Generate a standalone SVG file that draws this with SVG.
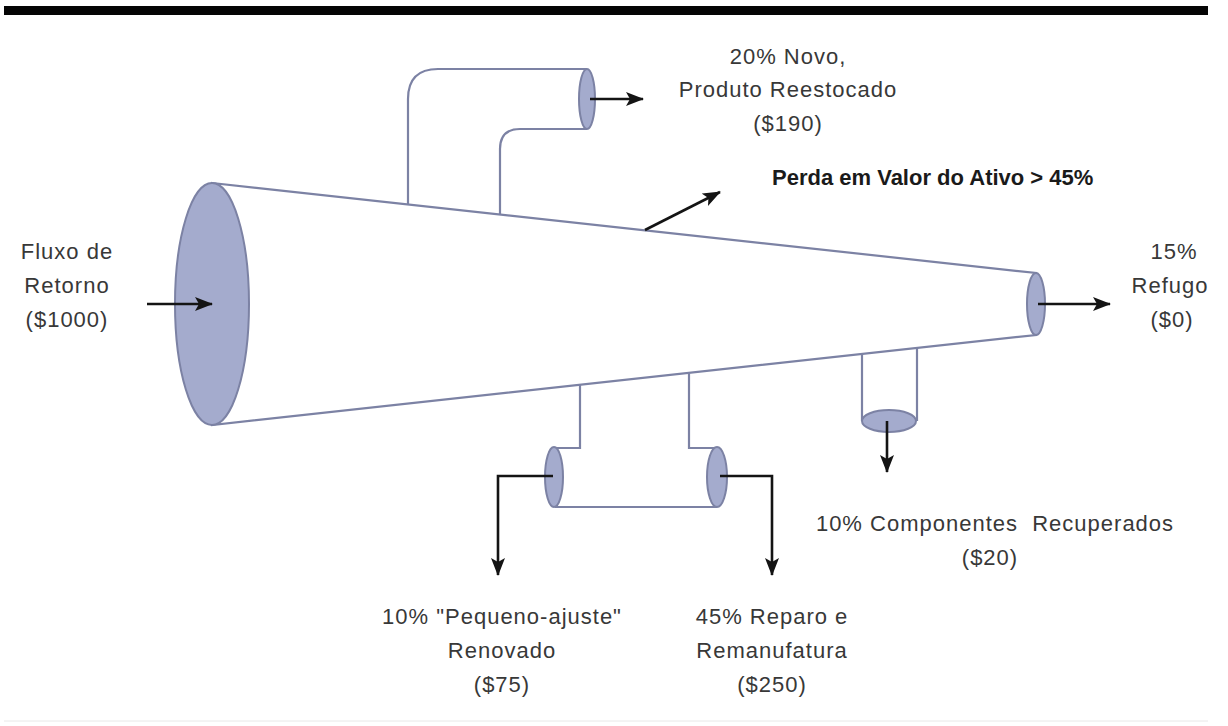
<svg xmlns="http://www.w3.org/2000/svg" width="1228" height="726" viewBox="0 0 1228 726">
<style>
.pipe{fill:none;stroke:#7c82a4;stroke-width:2.2}
.body{fill:#ffffff;stroke:#7c82a4;stroke-width:2.2}
.cap{fill:#a4abcd;stroke:#7c82a4;stroke-width:2}
.arr{fill:none;stroke:#141414;stroke-width:2.6;marker-end:url(#ah)}
.t{font-family:"Liberation Sans",Arial,sans-serif;font-size:22px;fill:#383838;text-anchor:middle;letter-spacing:1px}
.b{font-family:"Liberation Sans",Arial,sans-serif;font-size:22px;font-weight:bold;fill:#1a1a1a}
</style>
<defs>
<marker id="ah" markerUnits="userSpaceOnUse" markerWidth="20" markerHeight="16" refX="17" refY="7" orient="auto">
<path d="M0,0 L18,7 L0,14 L4,7 Z" fill="#141414"/>
</marker>
</defs>
<rect x="4" y="6" width="1204" height="9" fill="#050505"/>
<line x1="4" y1="721" x2="1208" y2="721" stroke="#e8e8e8" stroke-width="1"/>

<g id="cone">
<path class="body" d="M212,183 L1036,273 L1036,335 L212,425 Z"/>
<ellipse class="cap" cx="212" cy="304" rx="37" ry="121"/>
<ellipse class="cap" cx="1036" cy="304" rx="9" ry="31"/>
</g>

<g id="top-pipe">
<path class="pipe" d="M408,204 V99 Q408,69 438,69 H587"/>
<path class="pipe" d="M500,214 V149 Q500,129 520,129 H587"/>
<ellipse class="cap" cx="587" cy="99" rx="8" ry="30"/>
</g>

<g id="bottom-pipes">
<path class="pipe" d="M580,385 V448 H555"/>
<path class="pipe" d="M689,373 V448 H717"/>
<path class="pipe" d="M555,507 H717"/>
<ellipse class="cap" cx="554" cy="477" rx="9" ry="30"/>
<ellipse class="cap" cx="717" cy="477" rx="10" ry="30"/>
</g>

<g id="component-pipe">
<path class="pipe" d="M862,354 V421"/>
<path class="pipe" d="M917,348 V421"/>
<ellipse class="cap" cx="889" cy="421" rx="27" ry="11"/>
</g>

<g id="connectors">
<path class="arr" d="M147,304 H212"/>
<path class="arr" d="M590,99 H643"/>
<path class="arr" d="M645,230 L720,192"/>
<path class="arr" d="M1038,304 H1110"/>
<path class="arr" d="M887,421 V472"/>
<path class="arr" d="M553,476 H498 V575"/>
<path class="arr" d="M720,476 H772 V575"/>
</g>

<g id="label-restock">
<text class="t" x="788" y="64">20% Novo,</text>
<text class="t" x="788" y="97">Produto Reestocado</text>
<text class="t" x="788" y="131">($190)</text>
</g>
<g id="label-loss">
<text class="b" x="772" y="185">Perda em Valor do Ativo &gt; 45%</text>
</g>
<g id="label-input">
<text class="t" x="67" y="259">Fluxo de</text>
<text class="t" x="67" y="293">Retorno</text>
<text class="t" x="67" y="327">($1000)</text>
</g>
<g id="label-scrap">
<text class="t" x="1174" y="259">15%</text>
<text class="t" x="1170" y="293">Refugo</text>
<text class="t" x="1172" y="327">($0)</text>
</g>
<g id="label-components">
<text class="t" x="995" y="531">10% Componentes&#160; Recuperados</text>
<text class="t" x="990" y="565">($20)</text>
</g>
<g id="label-renewed">
<text class="t" x="502" y="624">10% "Pequeno-ajuste"</text>
<text class="t" x="502" y="658">Renovado</text>
<text class="t" x="502" y="692">($75)</text>
</g>
<g id="label-repair">
<text class="t" x="772" y="624">45% Reparo e</text>
<text class="t" x="772" y="658">Remanufatura</text>
<text class="t" x="772" y="692">($250)</text>
</g>
</svg>
